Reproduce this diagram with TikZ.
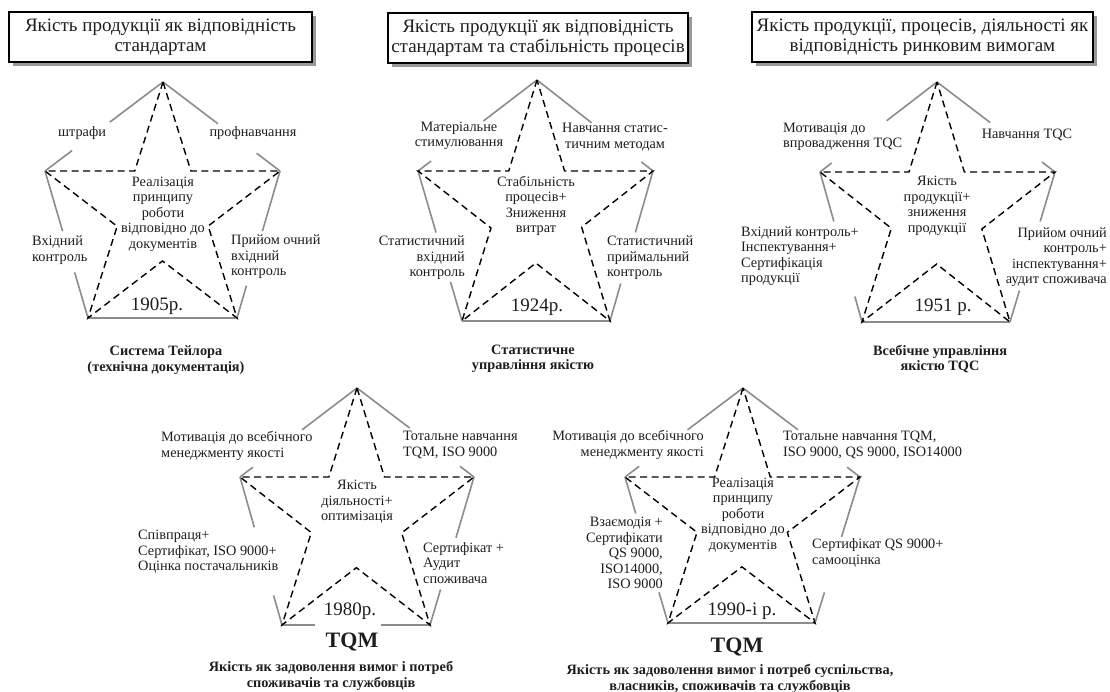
\documentclass[tikz,border=0pt]{standalone}
\usepackage{fontspec}
\setmainfont{Liberation Serif}
\usetikzlibrary{calc,shadows}
\definecolor{edgegray}{HTML}{8C8C8C}
\definecolor{txt}{HTML}{1E1E1E}
\tikzset{
  edgeline/.style={draw=edgegray,line width=1.6pt},
  starline/.style={draw=black,line width=1.4pt,dash pattern=on 7pt off 4.5pt,line join=miter},
  lab/.style={inner sep=0pt,text=txt,font=\fontsize{14.3}{15.5}\selectfont},
  labl/.style={lab,align=left},
  labr/.style={lab,align=right},
  labc/.style={lab,align=center},
  year/.style={inner sep=0pt,text=txt,font=\fontsize{19}{20}\selectfont},
  tqm/.style={inner sep=0pt,text=txt,font=\fontsize{22}{22}\selectfont\bfseries},
  capt/.style={inner sep=0pt,text=txt,align=center,font=\fontsize{14.3}{15.5}\selectfont\bfseries},
  titlebox/.style={draw=black,line width=1.2pt,fill=white,inner sep=0pt,align=center,
    minimum height=50pt,text=txt,font=\fontsize{19}{20}\selectfont,
    drop shadow={shadow xshift=4pt,shadow yshift=-4pt,fill=gray!80,opacity=1}}
}
\newcommand\qedge[4]{\draw[edgeline] (#1) -- ($(#1)!#3!(#2)$) ($(#1)!#4!(#2)$) -- (#2);}
\newcommand\qdashstar[1]{%
  \draw[starline] (#1T) -- (intersection of #1T--#1BL and #1UL--#1UR) -- (#1UL)
   -- (intersection of #1UL--#1BR and #1T--#1BL) -- (#1BL)
   -- (intersection of #1UL--#1BR and #1UR--#1BL) -- (#1BR)
   -- (intersection of #1UR--#1BL and #1T--#1BR) -- (#1UR)
   -- (intersection of #1T--#1BR and #1UL--#1UR) -- cycle;}
\newcommand\qpoints[6]{%
  \coordinate (#1T) at #2; \coordinate (#1UL) at #3; \coordinate (#1UR) at #4;
  \coordinate (#1BL) at #5; \coordinate (#1BR) at #6;}
\begin{document}
\begin{tikzpicture}[x=1pt,y=-1pt]
\useasboundingbox[fill=white] (0,0) rectangle (1110,692);

% title boxes
\node[titlebox,minimum width=303pt] (t1) at (160.5,37) {Якість продукції як відповідність\\стандартам};
\node[titlebox,minimum width=300pt] (t2) at (538,38) {Якість продукції як відповідність\\стандартам та стабільність процесів};
\node[titlebox,minimum width=341pt] (t3) at (922.5,37) {Якість продукції, процесів, діяльності як\\відповідність ринковим вимогам};

% ---------- star a
\qpoints{a}{(163,82)}{(45,171)}{(280,171)}{(88,318)}{(237,318)}
\qedge{aT}{aUL}{0.45}{0.77}
\qedge{aT}{aUR}{0.47}{0.80}
\qedge{aUL}{aBL}{0.41}{0.69}
\qedge{aUR}{aBR}{0.41}{0.78}
\draw[edgeline] (aBL) -- (aBR);
\qdashstar{a}
\node[labc] (a1) at (82,133) {штрафи};
\node[labc] (a2) at (253,133) {профнавчання};
\node[labc] (a3) at (163,214) {Реалізація\\принципу\\роботи\\відповідно до\\документів};
\node[labl,anchor=west] (a4) at (32,250) {Вхідний\\контроль};
\node[labl,anchor=west] (a5) at (231,257) {Прийом очний\\вхідний\\контроль};
\node[year] (ay) at (157,306) {1905р.};
\node[capt] (ac) at (166,360) {Система Тейлора\\(технічна документація)};

% ---------- star b
\qpoints{b}{(537,80)}{(418,171)}{(653,171)}{(462,321)}{(610,321)}
\qedge{bT}{bUL}{0.45}{0.89}
\qedge{bT}{bUR}{0.47}{0.90}
\qedge{bUL}{bBL}{0.41}{0.74}
\qedge{bUR}{bBR}{0.41}{0.75}
\draw[edgeline] (bBL) -- (bBR);
\qdashstar{b}
\node[labc] (b1) at (459,136) {Матеріальне\\стимулювання};
\node[labc] (b2) at (615,137) {Навчання статис-\\тичним методам};
\node[labc] (b3) at (536,206) {Стабільність\\процесів+\\Зниження\\витрат};
\node[labr,anchor=east] (b4) at (465,258) {Статистичний\\вхідний\\контроль};
\node[labl,anchor=west] (b5) at (607,258) {Статистичний\\приймальний\\контроль};
\node[year] (by) at (537,307) {1924р.};
\node[capt] (bc) at (533,359) {Статистичне\\управління якістю};

% ---------- star c
\qpoints{c}{(937,82)}{(820,172)}{(1055,172)}{(862,322)}{(1010,322)}
\qedge{cT}{cUL}{0.43}{0.90}
\qedge{cT}{cUR}{0.45}{0.89}
\qedge{cUL}{cBL}{0.33}{0.83}
\qedge{cUR}{cBR}{0.33}{0.79}
\draw[edgeline] (cBL) -- (cBR);
\qdashstar{c}
\node[labl,anchor=west] (c1) at (783,137) {Мотивація до\\впровадження TQC};
\node[labc] (c2) at (1027,135) {Навчання TQC};
\node[labc] (c3) at (937,206) {Якість\\продукції+\\зниження\\продукції};
\node[labl,anchor=west] (c4) at (741,256) {Вхідний контроль+\\Інспектування+\\Сертифікація\\продукції};
\node[labr,anchor=east] (c5) at (1107,257) {Прийом очний\\контроль+\\інспектування+\\аудит споживача};
\node[year] (cy) at (943,307) {1951 р.};
\node[capt] (cc) at (940,359) {Всебічне управління\\якістю TQC};

% ---------- star d
\qpoints{d}{(357,388)}{(240,477)}{(474,477)}{(282,625)}{(430,625)}
\qedge{dT}{dUL}{0.47}{0.89}
\qedge{dT}{dUR}{0.45}{0.88}
\qedge{dUL}{dBL}{0.34}{0.80}
\qedge{dUR}{dBR}{0.41}{0.76}
\qedge{dBL}{dBR}{0.22}{0.67}
\qdashstar{d}
\node[labl,anchor=west] (d1) at (161,446) {Мотивація до всебічного\\менеджменту якості};
\node[labl,anchor=west] (d2) at (403,445) {Тотальне навчання\\TQM, ISO 9000};
\node[labc] (d3) at (357,502) {Якість\\діяльності+\\оптимізація};
\node[labl,anchor=west] (d4) at (138,552) {Співпраця+\\Сертифікат, ISO 9000+\\Оцінка постачальників};
\node[labl,anchor=west] (d5) at (423,563) {Сертифікат +\\Аудит\\споживача};
\node[year] (dy) at (350,611) {1980р.};
\node[tqm] (dq) at (352,642) {TQM};
\node[capt] (dc) at (331,676) {Якість як задоволення вимог і потреб\\споживачів та службовців};

% ---------- star e
\qpoints{e}{(743,388)}{(625,477)}{(860,477)}{(668,623)}{(815,623)}
\qedge{eT}{eUL}{0.47}{0.88}
\qedge{eT}{eUR}{0.47}{0.89}
\qedge{eUL}{eBL}{0.25}{0.79}
\qedge{eUR}{eBR}{0.41}{0.79}
\draw[edgeline] (eBL) -- (eBR);
\qdashstar{e}
\node[labr,anchor=east] (e1) at (704,445) {Мотивація до всебічного\\менеджменту якості};
\node[labl,anchor=west] (e2) at (783,445) {Тотальне навчання TQM,\\ISO 9000, QS 9000, ISO14000};
\node[labc] (e3) at (743,515) {Реалізація\\принципу\\роботи\\відповідно до\\документів};
\node[labr,anchor=east] (e4) at (663,553) {Взаємодія +\\Сертифікати\\QS 9000,\\ISO14000,\\ISO 9000};
\node[labl,anchor=west] (e5) at (812,553) {Сертифікат QS 9000+\\самооцінка};
\node[year] (ey) at (742,611) {1990-і р.};
\node[tqm] (eq) at (737,647) {TQM};
\node[capt] (ec) at (730,679) {Якість як задоволення вимог і потреб суспільства,\\власників, споживачів та службовців};
\end{tikzpicture}
\end{document}
